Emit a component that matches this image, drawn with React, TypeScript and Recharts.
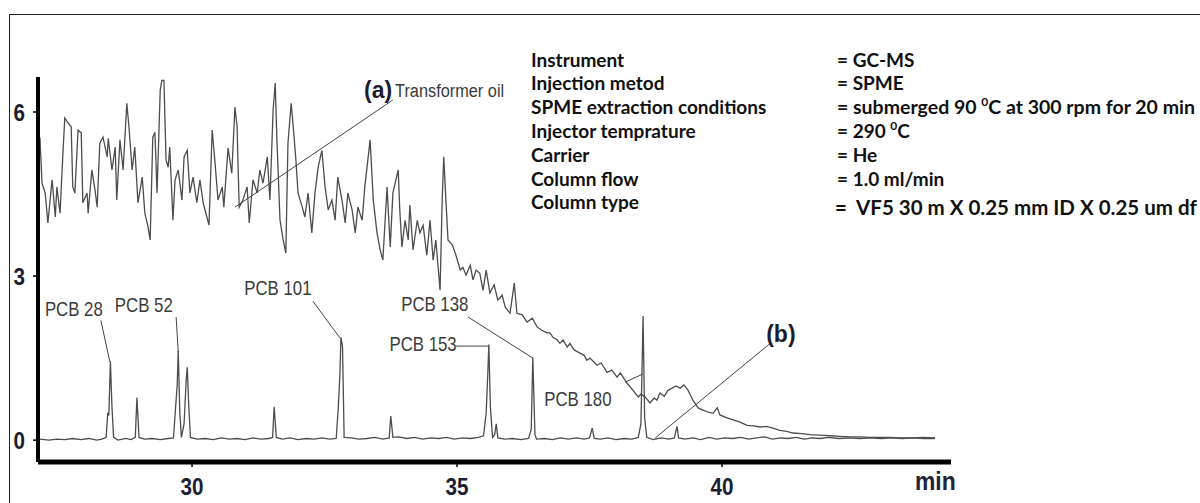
import React from 'react';
import { LineChart, Line, XAxis, YAxis, ReferenceLine, ReferenceDot } from 'recharts';

// Retention time (min) and signal for trace (a) Transformer oil
const traceATime = [
  27.13, 27.17, 27.23, 27.28, 27.36, 27.42, 27.45, 27.51, 27.57, 27.6, 27.66, 27.72, 27.75, 27.79, 27.85, 27.91,
  27.94, 28.02, 28.04, 28.11, 28.17, 28.21, 28.26, 28.32, 28.4, 28.42, 28.49, 28.55, 28.58, 28.64, 28.7, 28.77,
  28.81, 28.87, 28.92, 28.98, 29.06, 29.11, 29.17, 29.21, 29.26, 29.3, 29.34, 29.4, 29.43, 29.47, 29.51, 29.55,
  29.58, 29.64, 29.68, 29.74, 29.81, 29.85, 29.91, 29.96, 30.02, 30.09, 30.15, 30.21, 30.28, 30.32, 30.38, 30.43,
  30.49, 30.57, 30.6, 30.68, 30.75, 30.81, 30.85, 30.89, 30.96, 31.04, 31.08, 31.15, 31.23, 31.28, 31.34, 31.42,
  31.47, 31.53, 31.57, 31.6, 31.66, 31.72, 31.77, 31.81, 31.87, 31.91, 31.96, 32.0, 32.08, 32.13, 32.19, 32.26,
  32.32, 32.38, 32.45, 32.51, 32.57, 32.64, 32.7, 32.75, 32.83, 32.89, 32.94, 33.02, 33.08, 33.13, 33.21, 33.26,
  33.36, 33.42, 33.49, 33.55, 33.6, 33.68, 33.74, 33.79, 33.89, 33.92, 33.96, 34.02, 34.08, 34.11, 34.17, 34.25,
  34.3, 34.36, 34.43, 34.49, 34.55, 34.6, 34.68, 34.72, 34.75, 34.79, 34.83, 34.91, 34.98, 35.06, 35.11, 35.17,
  35.25, 35.3, 35.36, 35.43, 35.49, 35.55, 35.62, 35.7, 35.77, 35.85, 35.91, 36.0, 36.08, 36.13, 36.23, 36.32,
  36.42, 36.51, 36.6, 36.7, 36.75, 36.81, 36.89, 36.94, 37.0, 37.08, 37.13, 37.21, 37.32, 37.4, 37.45, 37.51,
  37.64, 37.72, 37.83, 37.92, 38.02, 38.08, 38.21, 38.32, 38.42, 38.47, 38.55, 38.64, 38.72, 38.77, 38.83, 38.91,
  38.98, 39.06, 39.13, 39.21, 39.28, 39.36, 39.45, 39.55, 39.64, 39.74, 39.83, 39.91, 39.96, 40.08, 40.21, 40.34,
  40.47, 40.6, 40.72, 40.84, 40.96, 41.09, 41.22, 41.34, 41.5, 41.66, 41.85, 42.04, 42.22, 42.42, 42.6, 42.79,
  43.0, 43.17, 43.35, 43.55, 43.8, 44.02,
];
const traceASignal = [
  5.54, 4.7, 4.52, 3.97, 4.76, 4.08, 4.63, 4.15, 5.36, 5.89, 5.8, 5.73, 4.63, 4.52, 5.67, 5.62,
  4.34, 4.52, 4.15, 4.94, 4.57, 4.26, 5.43, 5.54, 5.18, 5.52, 4.94, 5.36, 4.39, 5.49, 4.94, 6.16,
  5.73, 4.94, 5.36, 4.34, 4.81, 4.15, 3.9, 3.66, 5.54, 5.63, 4.52, 6.4, 6.58, 6.58, 5.12, 4.99,
  5.36, 4.02, 4.76, 4.94, 4.39, 5.18, 5.3, 4.52, 4.81, 4.34, 4.76, 4.34, 4.08, 3.93, 5.67, 5.12,
  4.39, 4.63, 4.26, 5.34, 4.88, 6.09, 5.73, 4.26, 4.39, 4.63, 3.97, 4.76, 4.52, 4.94, 4.7, 5.18,
  4.39, 6.04, 6.53, 5.54, 4.02, 3.66, 3.42, 5.43, 6.16, 5.73, 5.12, 4.52, 4.26, 4.08, 4.52, 3.79,
  4.52, 4.99, 5.3, 4.63, 4.21, 4.39, 4.02, 4.81, 4.39, 3.97, 4.52, 4.21, 3.79, 4.26, 4.02, 4.63,
  5.49, 4.39, 3.79, 3.48, 3.29, 4.63, 3.53, 4.52, 4.94, 4.21, 3.53, 4.02, 3.66, 4.3, 3.48, 4.02,
  3.79, 3.93, 3.38, 4.02, 3.29, 3.66, 2.74, 4.39, 5.18, 4.39, 3.66, 3.57, 3.38, 3.11, 3.16, 3.02,
  3.2, 2.93, 3.11, 3.05, 2.74, 3.11, 2.69, 2.84, 2.56, 2.65, 2.43, 2.32, 2.87, 2.32, 2.29, 2.16,
  2.23, 2.07, 2.01, 1.96, 1.96, 1.88, 1.83, 1.77, 1.83, 1.7, 1.77, 1.65, 1.59, 1.55, 1.46, 1.5,
  1.37, 1.41, 1.24, 1.28, 1.15, 1.23, 1.04, 0.91, 0.79, 0.84, 0.79, 0.68, 0.77, 0.73, 0.86, 0.8,
  0.91, 0.95, 0.99, 0.95, 1.01, 0.91, 0.73, 0.59, 0.55, 0.51, 0.49, 0.59, 0.46, 0.41, 0.37, 0.33,
  0.27, 0.26, 0.24, 0.25, 0.22, 0.18, 0.16, 0.13, 0.12, 0.1, 0.09, 0.08, 0.07, 0.06, 0.06, 0.05,
  0.05, 0.05, 0.04, 0.04, 0.05, 0.04,
];

// Retention time (min) and signal for trace (b) PCB standard
const traceBTime = [
  27.13, 27.3, 27.45, 27.6, 27.75, 27.9, 28.05, 28.2, 28.3, 28.38, 28.41, 28.43, 28.46, 28.49, 28.52, 28.6,
  28.75, 28.85, 28.93, 28.96, 29.0, 29.1, 29.25, 29.4, 29.55, 29.65, 29.69, 29.72, 29.74, 29.77, 29.8, 29.85,
  29.89, 29.91, 29.94, 29.97, 30.1, 30.25, 30.4, 30.55, 30.7, 30.85, 31.0, 31.15, 31.3, 31.45, 31.52, 31.55,
  31.59, 31.7, 31.85, 32.0, 32.15, 32.3, 32.45, 32.6, 32.72, 32.76, 32.79, 32.81, 32.84, 32.87, 33.0, 33.15,
  33.3, 33.45, 33.6, 33.72, 33.75, 33.79, 33.9, 34.05, 34.2, 34.35, 34.5, 34.65, 34.8, 34.95, 35.1, 35.25,
  35.4, 35.5, 35.55, 35.58, 35.6, 35.63, 35.67, 35.71, 35.74, 35.77, 35.9, 36.05, 36.2, 36.35, 36.4, 36.43,
  36.47, 36.5, 36.65, 36.8, 36.95, 37.1, 37.25, 37.4, 37.5, 37.55, 37.59, 37.7, 37.85, 38.0, 38.15, 38.3,
  38.42, 38.47, 38.51, 38.54, 38.58, 38.7, 38.85, 39.0, 39.1, 39.15, 39.18, 39.3, 39.45, 39.6, 39.75, 39.9,
  40.05, 40.2, 40.35, 40.5, 40.65, 40.8, 40.95, 41.1, 41.25, 41.4, 41.55, 41.7, 41.85, 42.0, 42.2, 42.4,
  42.6, 42.8, 43.0, 43.2, 43.4, 43.6, 43.8, 44.02,
];
const traceBSignal = [
  0.02, 0.0, 0.02, 0.01, 0.03, 0.01, 0.03, 0.0, 0.02, 0.05, 0.5, 0.45, 1.44, 0.6, 0.05, 0.0,
  0.03, 0.01, 0.05, 0.78, 0.05, 0.02, 0.03, 0.01, 0.03, 0.04, 0.6, 1.0, 1.63, 0.5, 0.05, 0.3,
  1.1, 1.33, 0.6, 0.05, 0.02, 0.03, 0.01, 0.04, 0.02, 0.03, 0.01, 0.04, 0.02, 0.03, 0.05, 0.61,
  0.05, 0.02, 0.04, 0.01, 0.03, 0.02, 0.04, 0.02, 0.03, 0.6, 1.2, 1.88, 1.7, 0.05, 0.04, 0.02,
  0.03, 0.05, 0.02, 0.04, 0.44, 0.05, 0.06, 0.03, 0.05, 0.02, 0.04, 0.03, 0.05, 0.02, 0.04, 0.03,
  0.05, 0.08, 0.5, 1.2, 1.75, 0.6, 0.05, 0.1, 0.3, 0.04, 0.02, 0.03, 0.01, 0.03, 0.2, 1.51,
  0.1, 0.02, 0.03, 0.01, 0.04, 0.02, 0.04, 0.02, 0.04, 0.22, 0.03, 0.02, 0.04, 0.01, 0.03, 0.02,
  0.05, 0.3, 2.27, 0.4, 0.05, 0.01, 0.04, 0.02, 0.04, 0.25, 0.04, 0.02, 0.04, 0.01, 0.05, 0.02,
  0.04, 0.03, 0.05, 0.02, 0.04, 0.06, 0.02, 0.04, 0.03, 0.05, 0.02, 0.04, 0.03, 0.05, 0.03, 0.04,
  0.03, 0.04, 0.03, 0.04, 0.03, 0.04, 0.03, 0.03,
];

const xTicks = [30, 35, 40];
const yTicks = [0, 3, 6];

// Peak labels: text with anchor in (min, signal) units
const peakLabels = [
  { text: 'PCB 28', t: 27.77, v: 2.41 },
  { text: 'PCB 52', t: 29.09, v: 2.47 },
  { text: 'PCB 101', t: 31.62, v: 2.78 },
  { text: 'PCB 138', t: 34.58, v: 2.49 },
  { text: 'PCB 153', t: 34.36, v: 1.76 },
  { text: 'PCB 180', t: 37.28, v: 0.75 },
];
// Leader lines in (min, signal) units
const leaderLines = [
  { t1: 28.28, v1: 2.19, t2: 28.45, v2: 1.43 },
  { t1: 29.7, v1: 2.25, t2: 29.74, v2: 1.61 },
  { t1: 32.28, v1: 2.54, t2: 32.79, v2: 1.87 },
  { t1: 34.98, v1: 1.72, t2: 35.6, v2: 1.72 },
  { t1: 35.21, v1: 2.25, t2: 36.43, v2: 1.5 },
  { t1: 38.17, v1: 1.06, t2: 38.51, v2: 1.21 },
  { t1: 30.81, v1: 4.26, t2: 33.79, v2: 6.22 },
  { t1: 38.74, v1: 0.04, t2: 40.91, v2: 1.77 },
];
const traceTags = [
  { text: '(a)', t: 33.51, v: 6.4 },
  { text: '(b)', t: 41.11, v: 1.94 },
];
const traceAName = { text: 'Transformer oil', t: 33.83, v: 6.4 };

const infoKeys = [
  'Instrument',
  'Injection metod',
  'SPME extraction conditions',
  'Injector temprature',
  'Carrier',
  'Column flow',
  'Column type',
];

const traceA = traceATime.map((t, i) => ({ t, v: traceASignal[i] }));
const traceB = traceBTime.map((t, i) => ({ t, v: traceBSignal[i] }));

const sans = '"Liberation Sans", Arial, sans-serif';
const infoFont = 'Lato, "Open Sans", sans-serif';

function condensed(text: string, o: { size: number; sx: number; anchor: string; fill: string; weight?: string }) {
  return (props: any) => {
    const vb = props.viewBox || {};
    const cx = (vb.x || 0) + (vb.width || 0) / 2;
    const cy = (vb.y || 0) + (vb.height || 0) / 2;
    return (
      <text
        transform={`translate(${cx},${cy}) scale(${o.sx},1)`}
        x={0}
        y={0}
        dy="0.36em"
        textAnchor={o.anchor}
        fontFamily={sans}
        fontSize={o.size}
        fontWeight={o.weight || 'normal'}
        fill={o.fill}
      >
        {text}
      </text>
    );
  };
}

const XTick = (props: any) => {
  const { x, y, payload } = props;
  return (
    <text transform={`translate(${x},${y}) scale(0.86,1)`} x={0} y={0} dy="0.71em" textAnchor="middle" fontFamily={sans} fontWeight="bold" fontSize={24} fill="#1b1d33">
      {payload.value}
    </text>
  );
};
const YTick = (props: any) => {
  const { x, y, payload } = props;
  return (
    <text transform={`translate(${x},${y}) scale(0.86,1)`} x={0} y={0} dy="0.36em" textAnchor="end" fontFamily={sans} fontWeight="bold" fontSize={24} fill="#1b1d33">
      {payload.value}
    </text>
  );
};

export default function App() {
  const leftBase = [67, 90, 114, 138, 162, 186, 209];
  return (
    <div style={{ position: 'absolute', left: 0, top: 0, width: 1200, height: 503, overflow: 'hidden', background: '#fff' }}>
      <div style={{ position: 'absolute', left: 9, top: 14, width: 1191, height: 489, borderTop: '1.5px solid #222', borderLeft: '1.5px solid #222', boxSizing: 'border-box' }} />
      <div style={{ position: 'absolute', left: 0, top: 0 }}>
        <LineChart width={1200} height={503} margin={{ top: 77, right: 249, bottom: 0, left: 0 }}>
          <XAxis
            dataKey="t"
            type="number"
            domain={[27.094, 44.32]}
            allowDataOverflow
            ticks={xTicks}
            height={41}
            axisLine={{ stroke: '#000', strokeWidth: 5 }}
            tickLine={{ stroke: '#000', strokeWidth: 1.5 }}
            tickSize={5}
            tickMargin={11}
            tick={<XTick />}
          />
          <YAxis
            dataKey="v"
            type="number"
            domain={[-0.4, 6.64]}
            allowDataOverflow
            ticks={yTicks}
            width={38}
            axisLine={{ stroke: '#000', strokeWidth: 4 }}
            tickLine={{ stroke: '#000', strokeWidth: 1.5 }}
            tickSize={5}
            tickMargin={8}
            tick={<YTick />}
          />
          <Line data={traceA} dataKey="v" type="linear" stroke="#4d4d4d" strokeWidth={1.3} dot={false} activeDot={false} isAnimationActive={false} />
          <Line data={traceB} dataKey="v" type="linear" stroke="#4d4d4d" strokeWidth={1.3} dot={false} activeDot={false} isAnimationActive={false} />
          {leaderLines.map((l, i) => (
            <ReferenceLine
              key={'l' + i}
              segment={[{ x: l.t1, y: l.v1 }, { x: l.t2, y: l.v2 }]}
              stroke="#444"
              strokeWidth={1}
              ifOverflow="visible"
            />
          ))}
          {peakLabels.map((p, i) => (
            <ReferenceDot
              key={'p' + i}
              x={p.t}
              y={p.v}
              r={0}
              fill="none"
              stroke="none"
              ifOverflow="visible"
              label={{ content: condensed(p.text, { size: 20, sx: 0.84, anchor: 'middle', fill: '#3a3a3a' }) }}
            />
          ))}
          {traceTags.map((p, i) => (
            <ReferenceDot
              key={'tag' + i}
              x={p.t}
              y={p.v}
              r={0}
              fill="none"
              stroke="none"
              ifOverflow="visible"
              label={{ content: condensed(p.text, { size: 23, sx: 1, anchor: 'middle', fill: '#1c1c30', weight: 'bold' }) }}
            />
          ))}
          <ReferenceDot
            x={traceAName.t}
            y={traceAName.v}
            r={0}
            fill="none"
            stroke="none"
            ifOverflow="visible"
            label={{ content: condensed(traceAName.text, { size: 19, sx: 0.86, anchor: 'start', fill: '#3a3a3a' }) }}
          />
        </LineChart>
      </div>
      <svg width={1200} height={503} style={{ position: 'absolute', left: 0, top: 0, pointerEvents: 'none' }}>
        <text transform="translate(915,490) scale(0.88,1)" x={0} y={0} fontFamily={sans} fontWeight="bold" fontSize={26} fill="#22223a">min</text>
        {infoKeys.map((k, i) => (
          <text key={k} x={531} y={leftBase[i]} fontFamily={infoFont} fontWeight="bold" fontSize={19} fill="#111">{k}</text>
        ))}
        <g fontFamily={infoFont} fontWeight="bold" fill="#111">
          <text x={837} y={67} fontSize={19}>= GC-MS</text>
          <text x={837} y={90} fontSize={19}>= SPME</text>
          <text x={837} y={114} fontSize={19.5}>
            = submerged 90 <tspan fontSize={12} dy={-8}>0</tspan><tspan dy={8}>C at 300 rpm for 20 min</tspan>
          </text>
          <text x={837} y={138} fontSize={19}>
            = 290 <tspan fontSize={12} dy={-8}>0</tspan><tspan dy={8}>C</tspan>
          </text>
          <text x={837} y={162} fontSize={19}>= He</text>
          <text x={837} y={186} fontSize={19}>= 1.0 ml/min</text>
          <text x={835} y={215} fontSize={20.5} xmlSpace="preserve">=  VF5 30 m X 0.25 mm ID X 0.25 um df</text>
        </g>
      </svg>
    </div>
  );
}
